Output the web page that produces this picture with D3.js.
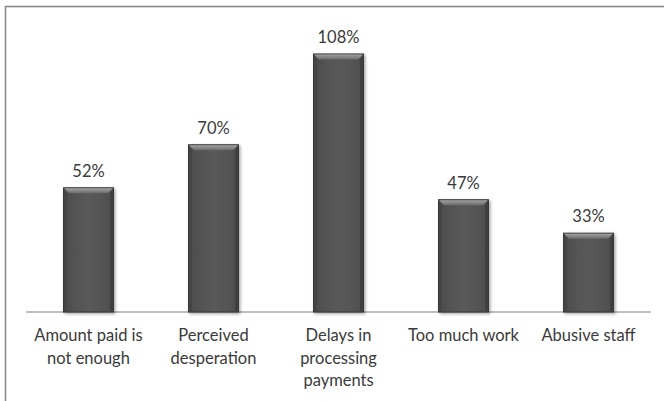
<!DOCTYPE html>
<html>
<head>
<meta charset="utf-8">
<script src="https://cdn.jsdelivr.net/npm/d3@7"></script>
<style>
  html, body { margin: 0; padding: 0; background: #fff; }
  svg { display: block; }
  text { font-family: Lato, "Open Sans", sans-serif; fill: #3a3a3a; }
</style>
</head>
<body>
<svg id="chart" width="664" height="401"></svg>
<script>
// Reasons and their shares
const categories = [
  ["Amount paid is", "not enough"],
  ["Perceived", "desperation"],
  ["Delays in", "processing", "payments"],
  ["Too much work"],
  ["Abusive staff"]
];
const values = [0.52, 0.70, 1.08, 0.47, 0.33];
const valueLabels = ["52%", "70%", "108%", "47%", "33%"];

const svg = d3.select("#chart");
const keys = categories.map(c => c.join(" "));

// Outer frame of the chart area
svg.append("rect")
  .attr("x", 5.5).attr("y", 6.5)
  .attr("width", 700).attr("height", 420)
  .attr("fill", "none").attr("stroke", "#8a8a8a").attr("stroke-width", 1.6);

const x = d3.scaleBand().domain(keys).range([26, 651])
  .paddingInner(0.6).paddingOuter(0.3);
const y = d3.scaleLinear().domain([0, 1.2]).range([312, 25.3]);

const defs = svg.append("defs");
const body = defs.append("linearGradient").attr("id", "barBody")
  .attr("x1", 0).attr("x2", 1).attr("y1", 0).attr("y2", 0);
body.append("stop").attr("offset", 0).attr("stop-color", "#4c4c4c");
body.append("stop").attr("offset", 0.5).attr("stop-color", "#5a5a5a");
body.append("stop").attr("offset", 1).attr("stop-color", "#4e4e4e");
const bevel = defs.append("linearGradient").attr("id", "barBevel")
  .attr("x1", 0).attr("x2", 0).attr("y1", 0).attr("y2", 1);
bevel.append("stop").attr("offset", 0).attr("stop-color", "#a2a2a2");
bevel.append("stop").attr("offset", 1).attr("stop-color", "#6a6a6a");
const shadow = defs.append("filter").attr("id", "shadow")
  .attr("x", "-20%").attr("y", "-10%").attr("width", "150%").attr("height", "130%");
shadow.append("feDropShadow").attr("dx", 1.5).attr("dy", 1.5)
  .attr("stdDeviation", 1.5).attr("flood-color", "#000").attr("flood-opacity", 0.35);

// Axis baseline
svg.append("line")
  .attr("x1", 26).attr("x2", 651).attr("y1", y(0)).attr("y2", y(0))
  .attr("stroke", "#a8a8a8").attr("stroke-width", 1.5);

const bw = x.bandwidth();
const bars = svg.selectAll("g.bar").data(values).join("g")
  .attr("class", "bar")
  .attr("filter", "url(#shadow)");

bars.append("rect")
  .attr("x", (d, i) => x(keys[i]))
  .attr("y", d => y(d))
  .attr("width", bw)
  .attr("height", d => y(0) - y(d))
  .attr("fill", "url(#barBody)")
  .attr("stroke", "#383838").attr("stroke-width", 1);

// Top bevel
bars.append("path")
  .attr("d", (d, i) => {
    const x0 = x(keys[i]) + 0.5, x1 = x0 + bw - 1, t = y(d) + 0.5, b = 5;
    return `M${x0},${t}L${x1},${t}L${x1 - b},${t + b}L${x0 + b},${t + b}Z`;
  })
  .attr("fill", "url(#barBevel)");

// Side bevels
bars.append("path")
  .attr("d", (d, i) => {
    const x0 = x(keys[i]) + 0.5, t = y(d) + 0.5, bot = y(0) - 0.5;
    return `M${x0},${t}L${x0 + 3},${t + 5}L${x0 + 3},${bot}L${x0},${bot}Z`;
  })
  .attr("fill", "#444");
bars.append("path")
  .attr("d", (d, i) => {
    const x1 = x(keys[i]) + bw - 0.5, t = y(d) + 0.5, bot = y(0) - 0.5;
    return `M${x1},${t}L${x1 - 3},${t + 5}L${x1 - 3},${bot}L${x1},${bot}Z`;
  })
  .attr("fill", "#404040");

// Value labels
svg.selectAll("text.value").data(values).join("text")
  .attr("class", "value")
  .attr("x", (d, i) => x(keys[i]) + bw / 2)
  .attr("y", d => y(d) - 11)
  .attr("text-anchor", "middle")
  .attr("font-size", 16.5)
  .text((d, i) => valueLabels[i]);

// Category labels
const cat = svg.selectAll("text.cat").data(categories).join("text")
  .attr("class", "cat")
  .attr("text-anchor", "middle")
  .attr("font-size", 16.5);
cat.selectAll("tspan").data((d, i) => d.map(line => ({ line, i }))).join("tspan")
  .attr("x", d => x(keys[d.i]) + bw / 2)
  .attr("y", (d, j) => 341 + j * 22.5)
  .text(d => d.line);
</script>
</body>
</html>
